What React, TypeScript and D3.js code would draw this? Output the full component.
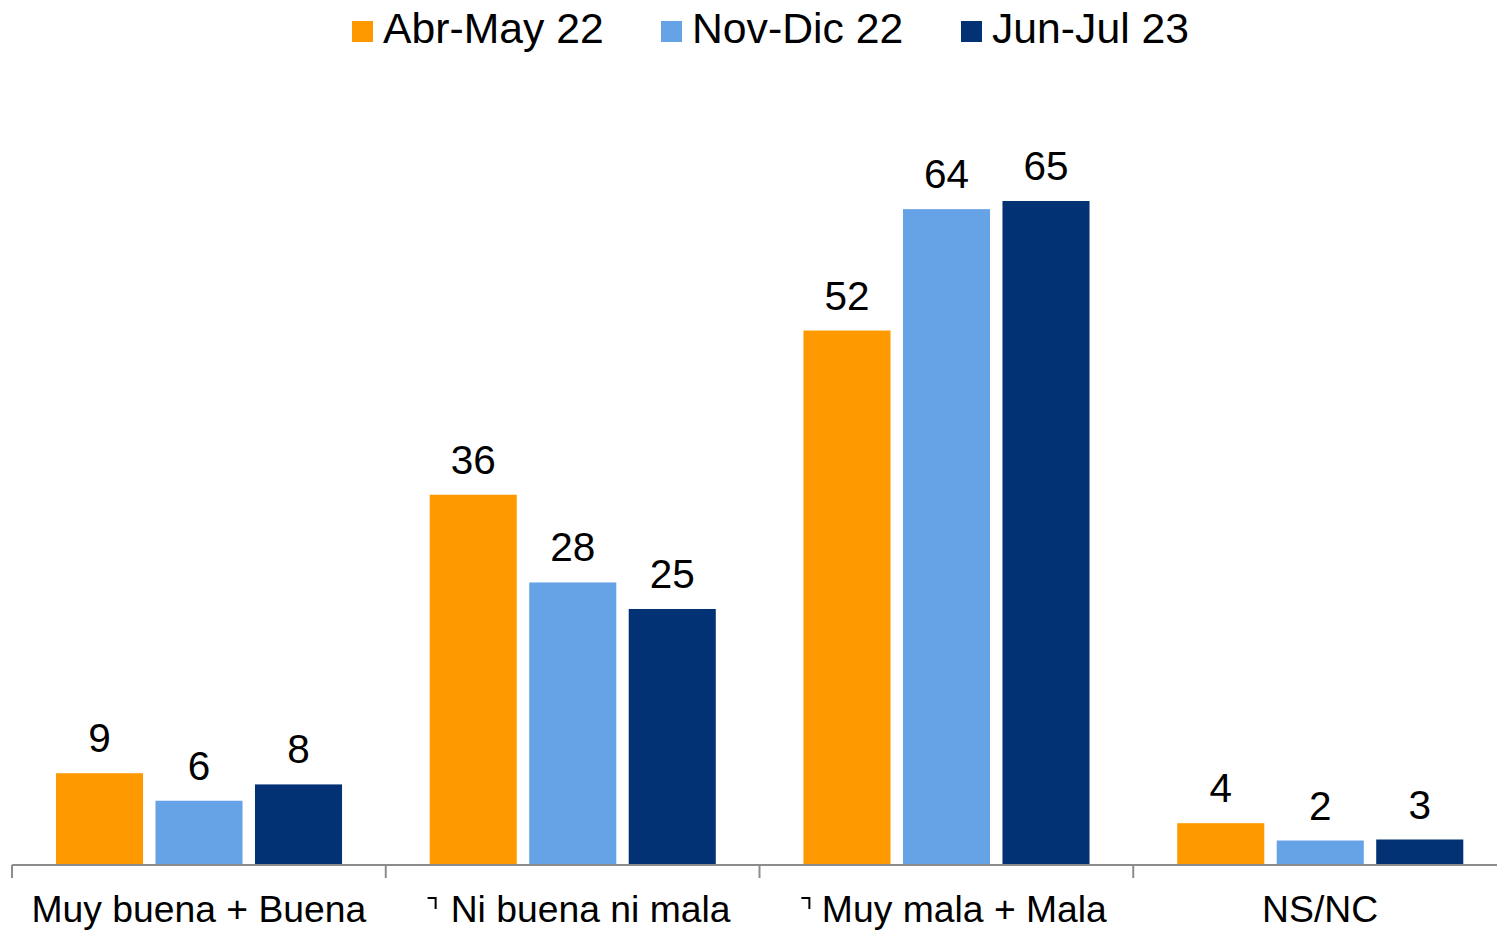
import React from "react";
import * as d3 from "d3";

const categories = ["Muy buena + Buena", "Ni buena ni mala", "Muy mala + Mala", "NS/NC"];
const series = ["Abr-May 22", "Nov-Dic 22", "Jun-Jul 23"];
const abrMay22 = [9.0, 36.3, 52.4, 4.1];
const novDic22 = [6.3, 27.7, 64.3, 2.4];
const junJul23 = [7.9, 25.1, 65.1, 2.5];
const colors = ["#FF9900", "#66A3E6", "#023174"];
const markedCategories = [false, true, true, false];

const W = 1497;
const H = 930;
const FONT = "'Liberation Sans', Arial, sans-serif";

export default function App() {
  const values = [abrMay22, novDic22, junJul23];
  const fmt = d3.format(".0f");
  const baseY = 865;
  const x0 = d3.scaleBand<string>().domain(categories).range([12, 12 + 4 * 373.75]).padding(0);
  const x1 = d3.scaleBand<string>().domain(series).range([38, 336]).paddingInner(0.125).paddingOuter(0.06);
  const y = d3.scaleLinear().domain([0, 70]).range([baseY, baseY - 70 * 10.2]);

  const legendX = [352, 661, 961];

  return (
    <svg width={W} height={H} style={{ position: "absolute", left: 0, top: 0, background: "#fff" }} fontFamily={FONT}>
      {/* legend */}
      {series.map((s, i) => (
        <g key={s}>
          <rect x={legendX[i]} y={21} width={21} height={21} fill={colors[i]} />
          <text x={legendX[i] + 31} y={43} fontSize={42.7} fill="#000">{s}</text>
        </g>
      ))}
      {/* bars */}
      {categories.map((c, ci) => (
        <g key={c} transform={`translate(${x0(c)},0)`}>
          {series.map((s, si) => {
            const v = values[si][ci];
            const bx = x1(s)!;
            const bw = x1.bandwidth();
            return (
              <g key={s}>
                <rect x={bx} y={y(v)} width={bw} height={baseY - y(v)} fill={colors[si]} />
                <text x={bx + bw / 2} y={y(v) - 21} textAnchor="middle" fontSize={40.5} fill="#000">{fmt(v)}</text>
              </g>
            );
          })}
        </g>
      ))}
      {/* axis */}
      <line x1={12} x2={W} y1={baseY} y2={baseY} stroke="#8c8c8c" strokeWidth={2} />
      {[0, 1, 2, 3].map((i) => {
        const tx = 12 + i * x0.step();
        return <line key={i} x1={tx} x2={tx} y1={baseY} y2={baseY + 13} stroke="#8c8c8c" strokeWidth={2} />;
      })}
      {categories.map((c, ci) => {
        const cx = x0(c)! + x0.bandwidth() / 2;
        return (
          <text key={c} x={cx + (markedCategories[ci] ? 18 : 0)} y={922} textAnchor="middle" fontSize={37.3} fill="#000">
            {c}
          </text>
        );
      })}
      {/* small corner marks before labels */}
      {categories.map((c, ci) => {
        if (!markedCategories[ci]) return null;
        const cx = x0(c)! + x0.bandwidth() / 2;
        const mx = cx - 145;
        return <path key={c} d={`M${mx},${898} h8 v11`} fill="none" stroke="#000" strokeWidth={2} />;
      })}
    </svg>
  );
}
